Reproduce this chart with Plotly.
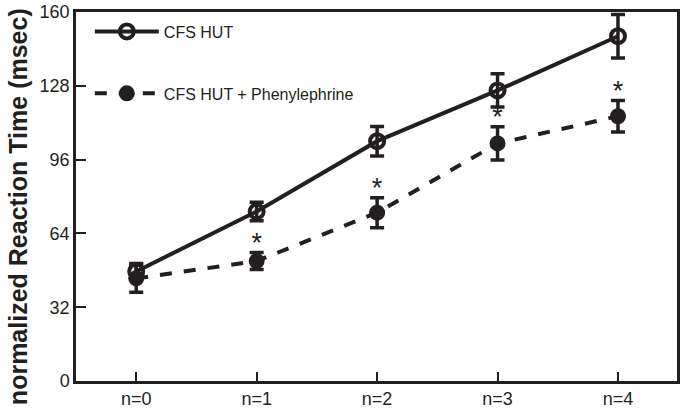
import plotly.graph_objects as go

categories = ["n=0", "n=1", "n=2", "n=3", "n=4"]
hut_values = [47.5, 73.5, 104.0, 126.0, 149.5]
hut_err = [3.5, 4.0, 6.4, 7.2, 9.4]
phe_values = [44.5, 52.0, 73.0, 103.0, 114.8]
phe_err = [6.0, 3.7, 6.5, 7.2, 6.8]
significant = [False, True, True, True, True]
y_ticks = [0, 32, 64, 96, 128, 160]
y_title = "normalized Reaction Time (msec)"

x = list(range(len(categories)))
ink = "#231f20"

fig = go.Figure()
fig.add_trace(go.Scatter(
    x=x, y=hut_values, name="CFS HUT", mode="lines+markers",
    line=dict(color=ink, width=4),
    marker=dict(symbol="circle-open", size=14, color=ink, line=dict(width=4, color=ink)),
    error_y=dict(type="data", array=hut_err, visible=True, color=ink, thickness=3.5, width=7),
    legendgroup="a",
))
fig.add_trace(go.Scatter(
    x=x, y=phe_values, name="CFS HUT + Phenylephrine", mode="lines+markers",
    line=dict(color=ink, width=4, dash="dash"),
    marker=dict(symbol="circle", size=16, color=ink),
    error_y=dict(type="data", array=phe_err, visible=True, color=ink, thickness=3.5, width=7),
    legendgroup="b",
))
sx = [xi for xi, s in zip(x, significant) if s]
sy = [v + e + 3.3 for v, e, s in zip(phe_values, phe_err, significant) if s]
fig.add_trace(go.Scatter(
    x=sx, y=sy, mode="text", text=["*"] * len(sx), showlegend=False,
    textfont=dict(size=27, color=ink, family="Liberation Sans, Arial"),
    textposition="middle center", hoverinfo="skip",
))

fig.add_annotation(
    text="<b>" + y_title + "</b>", textangle=-90, showarrow=False,
    xref="paper", yref="paper", x=-0.096, y=0.472, xanchor="center", yanchor="middle",
    font=dict(size=25, color=ink),
)

fig.update_layout(
    width=682, height=411,
    margin=dict(l=76, r=2, t=10, b=30),
    paper_bgcolor="white", plot_bgcolor="white",
    font=dict(family="Liberation Sans, Arial, sans-serif", color=ink),
    showlegend=True,
    legend=dict(x=0.023, y=0.993, xanchor="left", yanchor="top",
                font=dict(size=16, color=ink), tracegroupgap=38,
                traceorder="grouped", itemwidth=64, bgcolor="rgba(0,0,0,0)"),
    xaxis=dict(range=[-0.5, 4.49], tickmode="array", tickvals=x, ticktext=categories,
               ticks="inside", ticklen=9, tickwidth=2, tickcolor=ink,
               showline=True, linecolor=ink, linewidth=2.5, mirror=True,
               showgrid=False, zeroline=False, tickfont=dict(size=18, color=ink),
               ticklabeloverflow="allow"),
    yaxis=dict(range=[0, 160], tickmode="array", tickvals=y_ticks,
               ticks="inside", ticklen=10, tickwidth=2, tickcolor=ink,
               showline=True, linecolor=ink, linewidth=2.5, mirror=True,
               showgrid=False, zeroline=False, tickfont=dict(size=18, color=ink),
               ticklabeloverflow="allow"),
)

fig.write_html("out.html", config={"displayModeBar": False},
               post_script="document.body.style.margin='0';")
